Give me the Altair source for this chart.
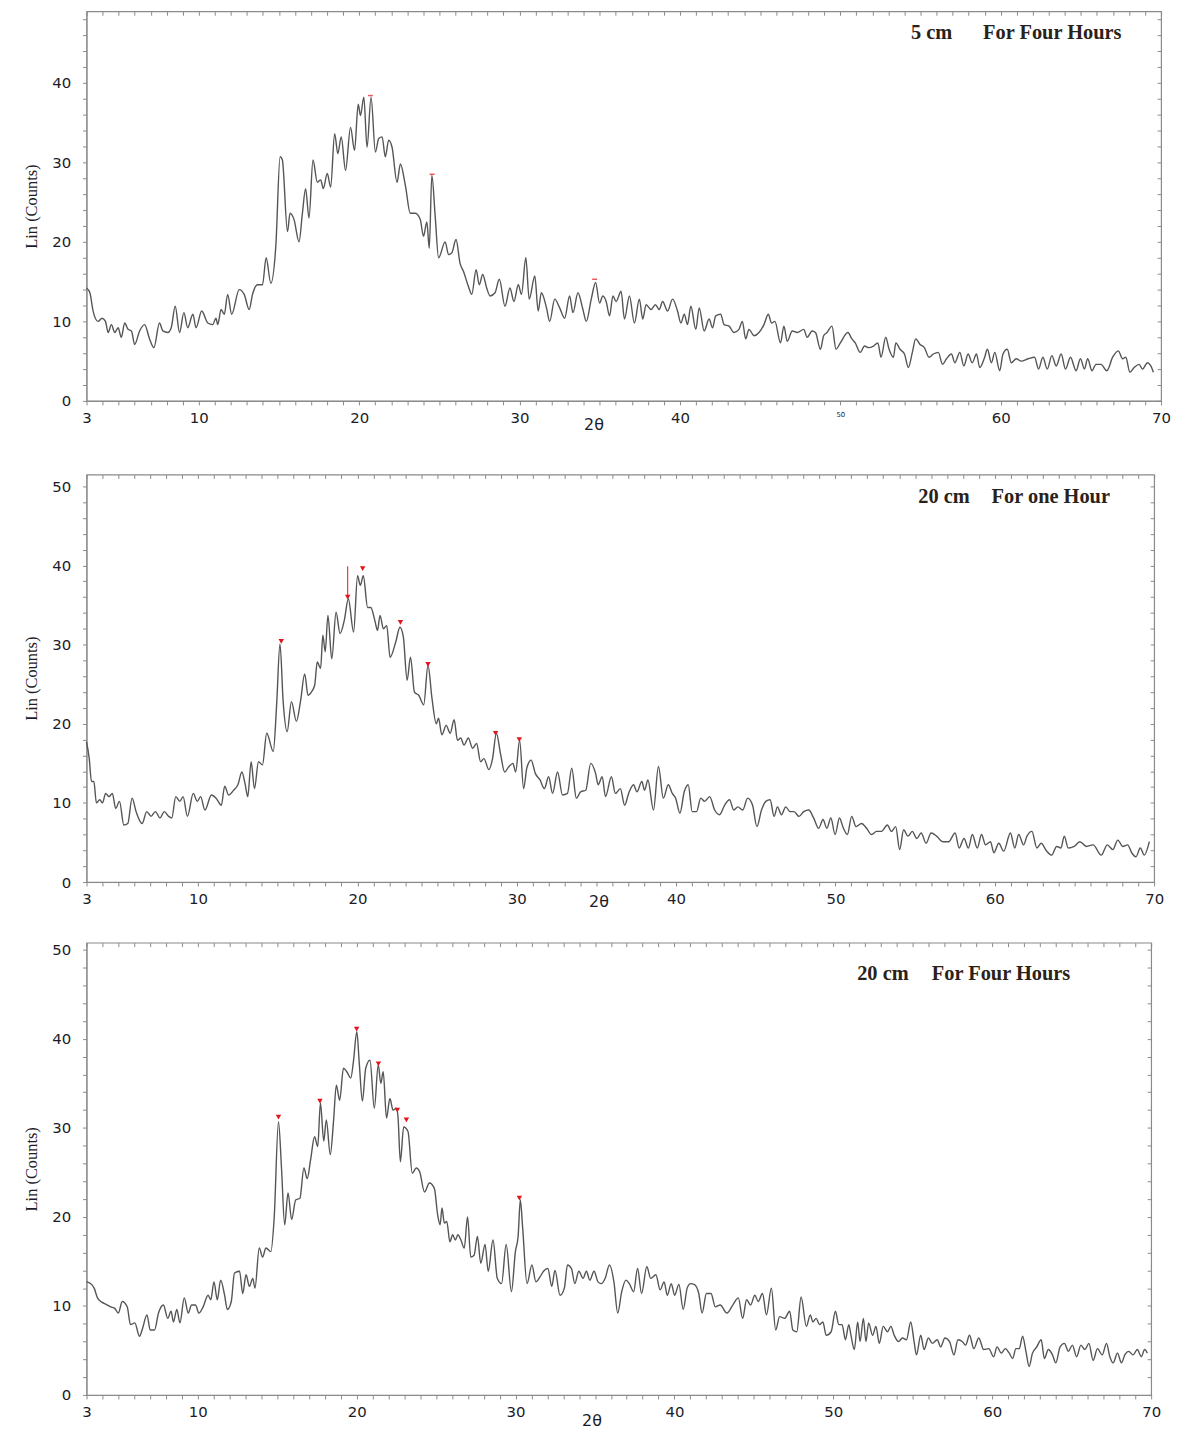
import altair as alt
import pandas as pd

# ---------------- Panel 1 : 5 cm, for four hours ----------------
P1_THETA = [
    3.00, 3.21, 3.41, 3.72, 3.97, 4.18, 4.35, 4.55, 4.76, 4.97,
    5.17, 5.38, 5.59, 5.80, 6.00, 6.31, 6.62, 6.93, 7.20, 7.55,
    7.76, 8.07, 8.28, 8.53, 8.80, 9.07, 9.31, 9.63, 9.83, 10.18,
    10.56, 10.87, 11.07, 11.18, 11.39, 11.59, 11.80, 12.05, 12.52, 12.83,
    13.14, 13.35, 13.66, 13.97, 14.20, 14.49, 14.80, 15.07, 15.21, 15.53,
    15.69, 15.94, 16.25, 16.46, 16.66, 16.87, 17.12, 17.39, 17.60, 17.76,
    18.01, 18.22, 18.47, 18.67, 18.88, 19.15, 19.46, 19.71, 19.94, 20.08,
    20.29, 20.49, 20.74, 21.01, 21.22, 21.43, 21.63, 21.84, 22.05, 22.36,
    22.57, 22.88, 23.19, 23.50, 23.81, 24.01, 24.22, 24.37, 24.53, 24.74,
    24.95,
    25.36, 25.57, 25.77, 26.04, 26.29, 26.50, 26.81, 27.02, 27.29, 27.49,
    27.70, 27.95, 28.16, 28.47, 28.74, 29.09, 29.40, 29.65, 29.92, 30.12,
    30.39, 30.60, 30.95, 31.16, 31.36, 31.68, 31.88, 32.19, 32.50, 32.81,
    33.12, 33.33, 33.64, 33.95, 34.16, 34.47, 34.74, 34.99, 35.19, 35.40,
    35.61, 35.82, 36.02, 36.33, 36.54, 36.85, 37.16, 37.47, 37.68, 37.89,
    38.20, 38.47, 38.71, 38.92, 39.23, 39.54, 39.85, 40.06, 40.27, 40.47,
    40.68, 40.99, 41.20, 41.51, 41.82, 42.03, 42.23, 42.54, 42.75, 43.06,
    43.37, 43.68, 43.89, 44.10, 44.30, 44.62, 44.93, 45.24, 45.51, 45.71,
    45.92, 46.27, 46.48, 46.69, 47.00, 47.31,
    47.72, 47.93, 48.24, 48.45, 48.76, 48.96, 49.17, 49.48, 49.73, 50.00,
    50.47, 50.72, 50.93, 51.24, 51.51, 51.76, 52.07, 52.34, 52.54, 52.83,
    53.04, 53.31, 53.46, 53.72, 54.00, 54.24, 54.49, 54.70, 54.97, 55.24,
    55.53, 55.80, 56.11, 56.37, 56.62, 56.93, 57.14, 57.45, 57.70, 57.97,
    58.22, 58.49, 58.69, 59.00, 59.17, 59.42, 59.63, 59.94, 60.14, 60.41,
    60.66, 60.97, 61.28, 61.70, 62.11, 62.36, 62.63, 62.90, 63.19, 63.46,
    63.77, 64.04, 64.35, 64.70, 64.97, 65.22, 65.42, 65.69, 65.94, 66.25,
    66.62, 66.98, 67.33, 67.60, 67.80, 68.05, 68.32, 68.63, 68.84, 69.15,
    69.36, 69.52,
]
P1_COUNTS = [
    14.2, 13.6, 11.3, 10.0, 10.4, 10.0, 8.6, 9.6, 8.6, 9.2,
    8.0, 9.8, 9.0, 8.8, 7.1, 8.8, 9.6, 7.8, 6.7, 9.8,
    8.8, 8.6, 9.2, 11.9, 8.6, 11.1, 9.2, 10.9, 9.2, 11.3,
    9.8, 9.6, 10.4, 9.6, 11.5, 10.9, 13.4, 10.9, 14.0, 13.4,
    11.5, 13.4, 14.6, 14.6, 18.0, 14.8, 19.4, 30.7, 30.3, 21.3,
    23.6, 22.8, 20.0, 23.6, 26.7, 23.0, 30.3, 27.5, 27.8, 26.7,
    28.6, 26.9, 33.6, 31.1, 33.2, 29.0, 34.4, 31.5, 37.3, 35.9,
    38.2, 31.9, 38.2, 31.3, 33.0, 33.2, 30.7, 32.8, 31.9, 27.5,
    29.8, 27.1, 23.6, 23.6, 22.8, 20.7, 22.5, 19.2, 28.4, 23.2,
    18.0,
    20.0, 18.4, 18.6, 20.3, 17.3, 16.3, 14.4, 13.4, 16.5, 14.6,
    15.9, 14.2, 13.2, 13.6, 15.3, 11.9, 14.2, 12.5, 14.6, 13.4,
    18.0, 12.8, 15.7, 11.3, 13.6, 11.7, 10.0, 12.8, 11.7, 10.4,
    13.2, 11.1, 13.6, 11.5, 10.0, 12.8, 14.9, 12.3, 13.2, 12.5,
    10.7, 13.2, 12.5, 13.8, 10.3, 13.2, 9.8, 12.8, 10.3, 12.1,
    11.5, 12.1, 11.5, 12.5, 11.3, 12.8, 11.3, 9.8, 10.9, 9.6,
    11.9, 9.0, 11.7, 8.8, 10.3, 9.2, 10.7, 10.9, 9.6, 9.4,
    8.6, 9.0, 10.0, 7.8, 9.0, 8.2, 8.6, 9.6, 10.9, 9.8,
    10.0, 7.3, 9.4, 7.5, 8.8, 8.6,
    9.0, 8.0, 8.8, 8.6, 6.5, 8.2, 8.6, 9.4, 6.5, 7.3,
    8.6, 7.8, 7.3, 6.1, 6.9, 6.7, 6.9, 7.3, 5.5, 8.0,
    6.5, 5.5, 7.3, 6.5, 5.9, 4.2, 6.1, 7.8, 7.1, 6.7,
    5.5, 5.9, 6.1, 4.6, 5.3, 5.9, 4.8, 6.1, 4.4, 5.9,
    4.8, 5.9, 4.2, 5.5, 6.5, 4.8, 6.1, 3.8, 5.9, 6.5,
    4.8, 5.3, 5.0, 5.3, 5.5, 4.0, 5.5, 4.0, 5.7, 4.4,
    5.9, 4.0, 5.5, 3.8, 5.3, 4.0, 5.3, 3.8, 4.6, 4.6,
    3.8, 5.5, 6.3, 5.3, 5.5, 3.6, 4.2, 4.6, 4.0, 4.8,
    4.4, 3.6,
]
P1_PEAK_THETA = [20.70, 24.55, 34.68]
P1_PEAK_COUNTS = [38.4, 28.5, 15.3]

# ---------------- Panel 2 : 20 cm, for one hour ----------------
P2_THETA = [
    3.00, 3.17, 3.31, 3.46, 3.62, 3.83, 4.00, 4.20, 4.41, 4.62,
    4.83, 5.07, 5.34, 5.59, 5.86, 6.11, 6.49, 6.78, 7.05, 7.32,
    7.61, 7.88, 8.15, 8.35, 8.60, 8.85, 9.06, 9.33, 9.70, 9.95,
    10.16, 10.43, 10.84, 11.13, 11.46, 11.67, 11.92, 12.23, 12.50, 12.75,
    12.96, 13.12, 13.33, 13.54, 13.79, 14.04, 14.31, 14.72, 14.93, 15.14,
    15.34, 15.59, 15.86, 16.17, 16.44, 16.69, 16.90, 17.11, 17.32, 17.48,
    17.69, 17.83, 17.98, 18.15, 18.39, 18.66, 18.91, 19.18, 19.43, 19.76,
    20.01, 20.18, 20.37, 20.64, 20.84, 21.11, 21.26, 21.42, 21.63, 21.84,
    22.05, 22.40, 22.67, 22.88, 23.12, 23.33, 23.58, 23.85, 24.16, 24.43,
    24.68, 24.95,
    25.09, 25.30, 25.57, 25.82, 26.07, 26.28, 26.48, 26.69, 26.96, 27.23,
    27.48, 27.73, 27.94, 28.25, 28.48, 28.72, 28.99, 29.24, 29.51, 29.76,
    29.93, 30.18, 30.43, 30.63, 30.90, 31.17, 31.46, 31.73, 32.00, 32.25,
    32.56, 32.87, 33.18, 33.45, 33.74, 34.01, 34.33, 34.64, 34.95, 35.11,
    35.36, 35.57, 35.94, 36.19, 36.50, 36.77, 37.02, 37.33, 37.54, 37.85,
    38.02, 38.23, 38.58, 38.89, 39.20, 39.51, 39.76, 39.97, 40.24, 40.51,
    40.76, 41.01, 41.28, 41.55, 41.79, 42.11, 42.42, 42.73, 43.04, 43.35,
    43.62, 43.87, 44.18, 44.49, 44.80, 45.07, 45.36, 45.63, 45.90, 46.15,
    46.36, 46.61, 46.88, 47.15, 47.40, 47.71,
    48.01, 48.32, 48.63, 48.95, 49.22, 49.46, 49.71, 49.98, 50.25, 50.50,
    50.75, 51.02, 51.29, 51.64, 51.95, 52.27, 52.58, 52.89, 53.26, 53.51,
    53.78, 54.03, 54.28, 54.55, 54.82, 55.11, 55.38, 55.69, 56.00, 56.35,
    56.73, 57.10, 57.51, 57.76, 58.07, 58.34, 58.59, 58.90, 59.17, 59.42,
    59.73, 59.94, 60.25, 60.56, 60.98, 61.25, 61.50, 61.81, 62.02, 62.33,
    62.64, 62.91, 63.26, 63.57, 63.88, 64.15, 64.36, 64.61, 64.98, 65.34,
    65.75, 66.17, 66.68, 67.06, 67.41, 67.72, 68.03, 68.34, 68.59, 68.86,
    69.13, 69.38, 69.70,
]
P2_COUNTS = [
    17.7, 15.6, 12.7, 12.7, 10.0, 10.4, 10.0, 11.2, 10.8, 11.2,
    9.3, 10.2, 7.2, 7.4, 10.6, 8.9, 7.4, 8.9, 8.3, 8.9,
    8.1, 8.9, 8.3, 8.1, 10.8, 10.2, 10.8, 8.3, 11.2, 10.2,
    10.8, 9.1, 11.0, 10.6, 9.7, 12.1, 11.0, 11.6, 12.3, 13.9,
    12.3, 10.8, 15.2, 11.8, 15.2, 14.8, 18.8, 16.5, 22.4, 30.1,
    22.8, 19.0, 22.8, 20.3, 23.0, 26.3, 23.6, 24.0, 24.9, 27.8,
    27.0, 31.2, 29.1, 33.7, 28.2, 34.1, 31.4, 33.1, 35.8, 31.6,
    38.7, 37.5, 38.7, 34.7, 34.7, 32.9, 31.8, 33.7, 32.0, 32.4,
    28.4, 30.3, 32.2, 31.0, 25.5, 28.4, 24.0, 23.6, 22.4, 27.4,
    23.2, 20.0,
    20.7, 18.6, 19.8, 18.8, 20.5, 17.9, 18.2, 17.3, 18.2, 16.9,
    17.5, 15.2, 15.6, 14.2, 15.6, 18.8, 16.1, 13.9, 14.6, 15.0,
    13.9, 17.9, 11.8, 14.4, 15.4, 13.7, 12.9, 11.8, 13.3, 11.2,
    13.9, 11.0, 11.2, 14.4, 10.6, 11.4, 11.6, 15.0, 13.7, 12.3,
    13.3, 10.8, 13.3, 11.2, 11.8, 9.7, 11.2, 12.3, 11.4, 12.7,
    11.6, 12.9, 9.1, 14.6, 10.6, 12.3, 11.2, 10.6, 8.7, 11.4,
    12.3, 8.9, 8.9, 10.6, 10.2, 10.8, 9.1, 8.5, 9.7, 10.4,
    9.1, 9.5, 9.1, 10.6, 9.7, 7.0, 9.1, 10.2, 10.4, 8.3,
    9.5, 8.5, 9.5, 8.9, 8.9, 8.3,
    8.9, 9.1, 8.1, 6.8, 7.9, 6.8, 8.1, 6.0, 8.1, 6.8,
    6.0, 8.3, 7.0, 7.4, 6.8, 6.0, 6.4, 6.4, 7.2, 6.4,
    7.0, 4.1, 6.6, 5.8, 6.4, 5.5, 6.2, 4.9, 6.2, 5.8,
    5.1, 5.1, 6.2, 4.3, 5.5, 4.3, 6.0, 4.3, 6.0, 4.7,
    5.1, 3.7, 4.9, 3.9, 6.2, 4.3, 6.0, 4.7, 5.8, 6.4,
    4.3, 4.9, 3.9, 3.4, 4.5, 4.3, 5.8, 4.3, 4.5, 5.1,
    4.5, 4.7, 3.4, 4.7, 4.1, 5.3, 4.5, 4.7, 3.7, 3.2,
    4.3, 3.4, 5.1,
]
P2_PEAK_THETA = [15.22, 19.39, 20.33, 22.70, 24.43, 28.67, 30.16]
P2_PEAK_COUNTS = [30.4, 36.0, 39.6, 32.8, 27.5, 18.8, 18.0]
P2_STICK_THETA = [19.39]
P2_STICK_LOW = [36.0]
P2_STICK_HIGH = [39.9]

# ---------------- Panel 3 : 20 cm, for four hours ----------------
P3_THETA = [
    3.00, 3.27, 3.48, 3.69, 3.89, 4.10, 4.31, 4.52, 4.79, 5.00,
    5.25, 5.56, 5.77, 6.04, 6.33, 6.53, 6.80, 7.01, 7.28, 7.53,
    7.84, 8.11, 8.32, 8.47, 8.68, 8.88, 9.15, 9.40, 9.61, 9.86,
    10.07, 10.34, 10.65, 10.82, 11.02, 11.23, 11.44, 11.69, 11.86, 12.11,
    12.31, 12.63, 12.83, 13.04, 13.25, 13.46, 13.60, 13.87, 14.08, 14.29,
    14.60, 14.81, 15.08, 15.27, 15.47, 15.68, 15.91, 16.16, 16.43, 16.68,
    16.89, 17.10, 17.35, 17.55, 17.72, 17.93, 18.09, 18.34, 18.55, 18.72,
    18.93, 19.17, 19.38, 19.63, 19.80, 20.01, 20.17, 20.36, 20.57, 20.84,
    21.11, 21.36, 21.52, 21.67, 21.88, 22.09, 22.29, 22.50, 22.60, 22.75,
    22.96, 23.23, 23.50, 23.75, 23.96, 24.27, 24.58, 24.89,
    25.10, 25.25, 25.37, 25.52, 25.67, 25.87, 26.04, 26.21, 26.37, 26.56,
    26.77, 26.98, 27.18, 27.39, 27.60, 27.81, 28.08, 28.28, 28.58, 28.85,
    29.12, 29.41, 29.74, 29.99, 30.16, 30.30, 30.45, 30.72, 31.03, 31.28,
    31.55, 31.76, 32.03, 32.28, 32.48, 32.80, 33.07, 33.27, 33.52, 33.73,
    33.98, 34.25, 34.46, 34.67, 34.94, 35.19, 35.40, 35.64, 35.91, 36.19,
    36.43, 36.68, 36.95, 37.16, 37.43, 37.68, 37.93, 38.26, 38.51, 38.83,
    39.10, 39.35, 39.55, 39.80, 40.01, 40.28, 40.55, 40.80, 41.01, 41.26,
    41.53, 41.74, 42.01, 42.30, 42.57, 42.88, 43.30, 43.67, 44.02, 44.29,
    44.54, 44.79, 45.06, 45.27, 45.54, 45.79, 46.10, 46.37, 46.62, 46.93,
    47.25, 47.45, 47.70, 47.97,
    48.30, 48.55, 48.71, 48.92, 49.13, 49.34, 49.55, 49.86, 50.13, 50.34,
    50.55, 50.76, 50.97, 51.11, 51.32, 51.53, 51.68, 51.89, 52.05, 52.22,
    52.47, 52.68, 52.89, 53.14, 53.41, 53.62, 53.83, 54.10, 54.35, 54.60,
    54.87, 55.08, 55.23, 55.50, 55.71, 55.98, 56.23, 56.54, 56.75, 57.02,
    57.31, 57.59, 57.84, 58.11, 58.32, 58.57, 58.84, 59.15, 59.46, 59.78,
    60.09, 60.30, 60.57, 60.82, 61.07, 61.28, 61.49, 61.70, 61.91, 62.12,
    62.32, 62.53, 62.80, 63.08, 63.28, 63.53, 63.79, 64.00, 64.27, 64.54,
    64.79, 65.04, 65.31, 65.58, 65.83, 66.08, 66.35, 66.62, 66.92, 67.19,
    67.40, 67.61, 67.88, 68.13, 68.34, 68.59, 68.86, 69.13, 69.38, 69.59,
    69.76,
]
P3_COUNTS = [
    12.7, 12.5, 12.0, 10.9, 10.5, 10.3, 10.1, 9.9, 9.7, 9.2,
    10.5, 9.9, 7.9, 8.1, 6.6, 7.5, 9.0, 7.3, 7.3, 9.2,
    10.1, 8.6, 9.4, 8.2, 9.6, 8.1, 10.9, 9.2, 10.1, 10.1,
    9.2, 9.9, 11.2, 10.7, 12.7, 10.7, 12.9, 11.2, 9.6, 10.5,
    13.7, 13.9, 11.4, 13.5, 12.2, 13.1, 12.0, 16.5, 15.5, 16.5,
    16.1, 19.9, 30.7, 25.5, 19.1, 22.7, 19.7, 21.9, 22.1, 25.5,
    24.3, 26.4, 29.0, 27.9, 32.8, 28.5, 30.9, 27.0, 30.9, 34.8,
    33.1, 36.7, 36.3, 35.6, 37.5, 40.8, 37.1, 33.0, 36.7, 37.6,
    32.2, 37.1, 35.0, 36.3, 31.1, 33.3, 32.0, 32.2, 31.3, 26.2,
    30.1, 29.6, 24.9, 25.5, 25.1, 22.8, 23.8, 23.2,
    20.2, 19.1, 21.0, 19.3, 19.5, 17.2, 18.0, 17.4, 18.0, 17.4,
    16.5, 20.0, 15.5, 15.7, 17.8, 14.8, 16.9, 13.9, 17.4, 13.1,
    12.5, 16.9, 11.6, 16.1, 17.8, 21.9, 18.7, 12.5, 14.6, 12.7,
    13.3, 13.9, 14.2, 12.2, 14.0, 11.2, 12.0, 14.6, 14.2, 12.5,
    13.9, 13.1, 13.9, 12.9, 13.9, 12.7, 12.5, 13.1, 14.6, 12.7,
    9.2, 11.6, 12.9, 12.5, 11.6, 14.2, 11.4, 14.4, 13.1, 13.5,
    11.8, 12.7, 11.2, 12.5, 11.2, 12.4, 9.6, 12.0, 12.5, 12.4,
    11.4, 9.2, 11.4, 11.4, 9.9, 10.1, 9.2, 10.1, 10.9, 8.6,
    10.7, 10.1, 11.2, 10.5, 11.4, 9.0, 12.0, 7.3, 8.8, 8.6,
    9.4, 7.3, 7.1, 11.0,
    7.7, 9.0, 8.2, 8.6, 7.9, 8.2, 6.7, 7.1, 9.4, 7.9,
    7.9, 6.2, 7.9, 6.7, 5.1, 8.2, 6.0, 8.6, 6.0, 8.1,
    6.7, 7.7, 5.8, 7.7, 7.1, 7.7, 6.7, 6.0, 6.4, 6.2,
    8.2, 6.0, 4.5, 6.7, 5.1, 6.4, 5.8, 6.2, 5.4, 6.4,
    6.0, 4.5, 6.2, 6.0, 5.6, 6.7, 5.2, 6.4, 5.1, 5.2,
    4.3, 5.4, 4.7, 5.2, 4.7, 4.1, 5.2, 5.2, 6.6, 4.9,
    3.2, 4.7, 5.4, 6.2, 4.1, 5.1, 4.5, 3.6, 5.4, 5.8,
    4.9, 5.6, 4.3, 5.6, 5.1, 5.8, 3.9, 5.2, 4.5, 5.8,
    4.3, 3.6, 4.7, 3.6, 4.5, 4.9, 4.5, 5.1, 4.3, 5.1,
    4.7,
]
P3_PEAK_THETA = [15.08, 17.69, 20.00, 21.37, 22.56, 23.13, 30.24]
P3_PEAK_COUNTS = [31.2, 33.0, 41.1, 37.2, 32.0, 30.9, 22.1]

# ---------------- labels ----------------
X_LABELS = [3, 10, 20, 30, 40, 50, 60, 70]
X_TICKS = list(range(3, 71))
DEPTH_TEXT = ["5 cm", "20 cm", "20 cm"]
TIME_TEXT = ["For Four Hours", "For one Hour", "For Four Hours"]
DEPTH_THETA = [54.4, 55.2, 51.5]
TIME_THETA = [58.9, 59.8, 56.2]
TEXT_COUNTS = [46.3, 48.6, 47.3]
Y_TOP = [49.0, 51.5, 50.8]

FRAME = "#8a8a8a"
LINE = "#555555"
MARK = "#e3141b"
TXT = "#1c1c2a"

for a, b in [(P1_THETA, P1_COUNTS), (P2_THETA, P2_COUNTS), (P3_THETA, P3_COUNTS)]:
    assert len(a) == len(b), (len(a), len(b))


def panel(i, theta, counts, pk_t, pk_c, width, height, xt_x, xt_y,
          triangles=True, small50=False, stick=None):
    df = pd.DataFrame({"theta": theta, "counts": counts})
    ymax = Y_TOP[i]
    xs = alt.Scale(domain=[3, 70], nice=False, zero=False)
    ys = alt.Scale(domain=[0, ymax], nice=False)
    lab_list = ",".join(str(v) for v in X_LABELS)
    if small50:
        lfs = {"condition": {"test": "datum.value === 50", "value": 7}, "value": 15}
    else:
        lfs = 15
    x_axis = alt.Axis(
        values=X_TICKS,
        labelExpr=f"indexof([{lab_list}], datum.value) >= 0 ? datum.label : ''",
        labelOverlap=False, labelFlush=False, tickSize=4, labelPadding=6,
        labelFontSize=lfs, title="2θ", titleX=xt_x, titleY=xt_y,
        titleAlign="center", titleBaseline="middle", titleFont="DejaVu Sans",
        titleFontSize=16, titleFontWeight="normal", grid=False,
    )
    y_vals = list(range(0, int(ymax) + 1, 2))
    y_axis = alt.Axis(
        values=y_vals,
        labelExpr="datum.value % 10 === 0 ? datum.label : ''",
        labelOverlap=False, labelFlush=False, tickSize=4, labelPadding=12,
        labelFontSize=15, title="Lin (Counts)", titleFont="Liberation Serif",
        titleFontSize=16.5, titleFontWeight="normal", titlePadding=13,
        minExtent=34, maxExtent=34, grid=False,
    )
    line = alt.Chart(df).mark_line(
        color=LINE, strokeWidth=1.4, interpolate="monotone"
    ).encode(
        x=alt.X("theta:Q", scale=xs, axis=x_axis),
        y=alt.Y("counts:Q", scale=ys, axis=y_axis),
    )
    frame = alt.Chart(df).mark_line(strokeOpacity=0).encode(
        x=alt.X("theta:Q", scale=xs, axis=alt.Axis(
            orient="bottom", offset=-height, values=X_TICKS, labels=False,
            domain=False, tickSize=4, title=None, grid=False)),
        y=alt.Y("counts:Q", scale=ys, axis=alt.Axis(
            orient="left", offset=-width, values=y_vals, labels=False,
            domain=False, tickSize=4, title=None, grid=False)),
    )
    pk = pd.DataFrame({"theta": pk_t, "counts": pk_c})
    if triangles:
        marks = alt.Chart(pk).mark_point(
            shape="triangle-down", filled=True, size=30, color=MARK, opacity=1
        )
    else:
        marks = alt.Chart(pk).mark_tick(
            orient="horizontal", size=5, thickness=1.5, color=MARK
        )
    marks = marks.encode(
        x=alt.X("theta:Q", scale=xs, axis=None),
        y=alt.Y("counts:Q", scale=ys, axis=None),
    )
    tdf = pd.DataFrame({
        "theta": [DEPTH_THETA[i], TIME_THETA[i]],
        "counts": [TEXT_COUNTS[i], TEXT_COUNTS[i]],
        "txt": [DEPTH_TEXT[i], TIME_TEXT[i]],
    })
    texts = alt.Chart(tdf).mark_text(
        align="left", baseline="middle", font="Liberation Serif", fontSize=20.5,
        fontWeight="bold", color="#2a2218"
    ).encode(
        x=alt.X("theta:Q", scale=xs, axis=None),
        y=alt.Y("counts:Q", scale=ys, axis=None),
        text="txt:N",
    )
    layers = [line, frame, marks, texts]
    if stick is not None:
        sdf = pd.DataFrame({"theta": stick[0], "lo": stick[1], "hi": stick[2]})
        rule = alt.Chart(sdf).mark_rule(color=MARK, strokeWidth=1).encode(
            x=alt.X("theta:Q", scale=xs, axis=None),
            y=alt.Y("lo:Q", scale=ys, axis=None),
            y2="hi:Q",
        )
        layers.append(rule)
    return alt.layer(*layers).resolve_axis(
        x="independent", y="independent"
    ).properties(width=width, height=height)


p1 = panel(0, P1_THETA, P1_COUNTS, P1_PEAK_THETA, P1_PEAK_COUNTS,
           1081, 392, 510, 24, triangles=False, small50=True)
p2 = panel(1, P2_THETA, P2_COUNTS, P2_PEAK_THETA, P2_PEAK_COUNTS,
           1074, 410, 515, 20,
           stick=(P2_STICK_THETA, P2_STICK_LOW, P2_STICK_HIGH))
p3 = panel(2, P3_THETA, P3_COUNTS, P3_PEAK_THETA, P3_PEAK_COUNTS,
           1071, 455, 508, 26)

chart = alt.vconcat(
    p1, alt.vconcat(p2, p3, spacing=30), spacing=39
).properties(
    padding={"left": 15, "top": -3, "right": 5, "bottom": 2}
).configure_view(
    stroke=FRAME, strokeWidth=1.2
).configure_axis(
    domainColor=FRAME, tickColor=FRAME, labelFont="DejaVu Sans",
    labelColor=TXT, titleColor=TXT,
)

chart.save("out.html", embed_options={"renderer": "svg", "actions": False})
